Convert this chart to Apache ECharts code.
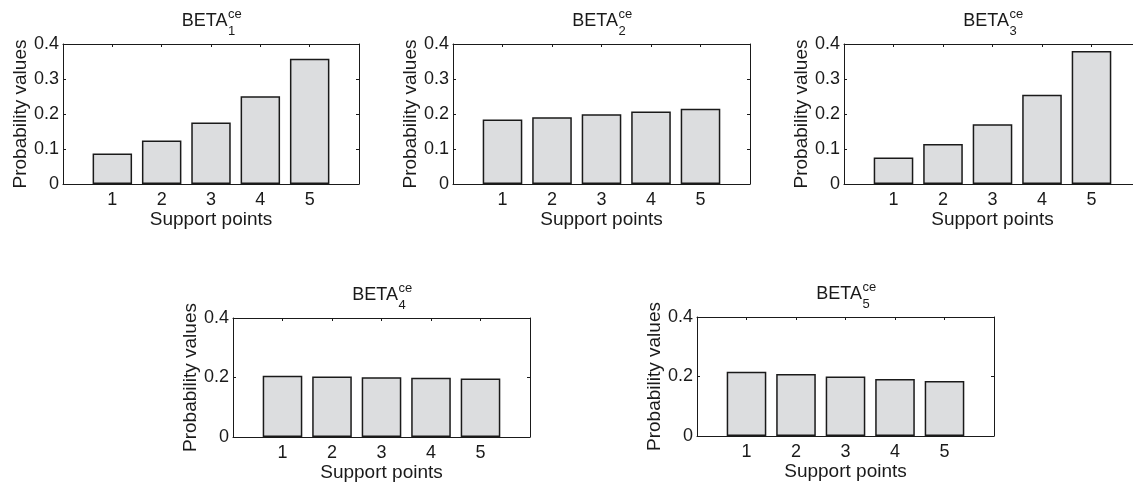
<!DOCTYPE html>
<html>
<head>
<meta charset="utf-8">
<script src="https://cdn.jsdelivr.net/npm/echarts@6/dist/echarts.min.js"></script>
<style>
  html, body { margin: 0; padding: 0; background: #fff; }
  #chart { width: 1133px; height: 485px; }
</style>
</head>
<body>
<div id="chart"></div>
<script>
// ---- data ----
const categories = [1, 2, 3, 4, 5];
const subscripts = ['1', '2', '3', '4', '5'];
const superscript = 'ce';
const titleStem = 'BETA';
const beta1 = [0.087, 0.124, 0.176, 0.251, 0.358];
const beta2 = [0.184, 0.191, 0.199, 0.207, 0.215];
const beta3 = [0.076, 0.114, 0.171, 0.255, 0.380];
const beta4 = [0.206, 0.203, 0.201, 0.199, 0.197];
const beta5 = [0.216, 0.208, 0.200, 0.192, 0.185];
const seriesValues = [beta1, beta2, beta3, beta4, beta5];
const yTickStep = [0.1, 0.1, 0.1, 0.2, 0.2];
const yMax = 0.4;
const xLabel = 'Support points';
const yLabel = 'Probability values';

// ---- layout ----
const W = 1133;
const panels = [
  { left: 63,  top: 44,  width: 296, height: 140 },
  { left: 453, top: 44,  width: 297, height: 140 },
  { left: 844, top: 44,  width: 297, height: 140 },
  { left: 233, top: 318, width: 297, height: 119 },
  { left: 697, top: 317, width: 297, height: 119 }
];

const FONT = "'Liberation Sans', Arial, Helvetica, sans-serif";
const INK = '#1a1a1a';

const grid = [], xAxis = [], yAxis = [], series = [], title = [];

panels.forEach((p, i) => {
  grid.push({
    left: p.left, top: p.top, width: p.width, height: p.height,
    containLabel: false, outerBoundsMode: 'none', show: false
  });
  const lineStyle = { color: INK, width: 1 };
  const xBase = {
    type: 'value', gridIndex: i, min: 0, max: categories.length + 1, interval: 1,
    splitLine: { show: false },
    axisLine: { show: true, onZero: false, lineStyle },
    axisTick: { show: true, inside: true, length: 3, lineStyle }
  };
  xAxis.push(Object.assign({}, xBase, {
    position: 'bottom',
    name: xLabel, nameLocation: 'middle', nameGap: 25,
    nameTextStyle: { fontSize: 19, color: INK, fontFamily: FONT },
    axisLabel: {
      fontSize: 18, color: INK, fontFamily: FONT, margin: 7,
      formatter: v => (categories.indexOf(v) >= 0 ? String(v) : '')
    }
  }));
  xAxis.push(Object.assign({}, xBase, {
    position: 'top', axisLabel: { show: false }
  }));
  const yBase = {
    type: 'value', gridIndex: i, min: 0, max: yMax, interval: yTickStep[i],
    splitLine: { show: false },
    axisLine: { show: true, onZero: false, lineStyle },
    axisTick: { show: true, inside: true, length: 3, lineStyle }
  };
  yAxis.push(Object.assign({}, yBase, {
    position: 'left',
    name: yLabel, nameLocation: 'middle', nameGap: 33,
    nameTextStyle: { fontSize: 19, color: INK, fontFamily: FONT },
    axisLabel: { fontSize: 18, color: INK, fontFamily: FONT, margin: 4,
      formatter: v => String(Math.round(v * 10) / 10) }
  }));
  yAxis.push(Object.assign({}, yBase, {
    position: 'right', axisLabel: { show: false }
  }));
  series.push({
    type: 'bar', xAxisIndex: 2 * i, yAxisIndex: 2 * i,
    data: categories.map((c, k) => [c, seriesValues[i][k]]),
    barWidth: '80%',
    itemStyle: { color: '#dcdddf', borderColor: INK, borderWidth: 1.5 },
    silent: true, z: 1
  });

  const cx = p.left + p.width / 2;
  const tTop = p.top - 31.5;
  const joinX = cx + 16.5;
  title.push({
    text: titleStem, right: W - joinX, top: tTop, padding: 0,
    textStyle: { fontSize: 18, fontWeight: 'normal', color: INK, fontFamily: FONT }
  });
  title.push({
    text: subscripts[i], left: joinX + 0.5, top: tTop + 12.5, padding: 0,
    textStyle: { fontSize: 13, fontWeight: 'normal', color: INK, fontFamily: FONT }
  });
  title.push({
    text: superscript, left: joinX + 0.5, top: tTop - 5, padding: 0,
    textStyle: { fontSize: 13, fontWeight: 'normal', color: INK, fontFamily: FONT }
  });
});

const chart = echarts.init(document.getElementById('chart'), null, { renderer: 'canvas' });
chart.setOption({
  animation: false,
  backgroundColor: '#ffffff',
  title, grid, xAxis, yAxis, series
});
</script>
</body>
</html>
